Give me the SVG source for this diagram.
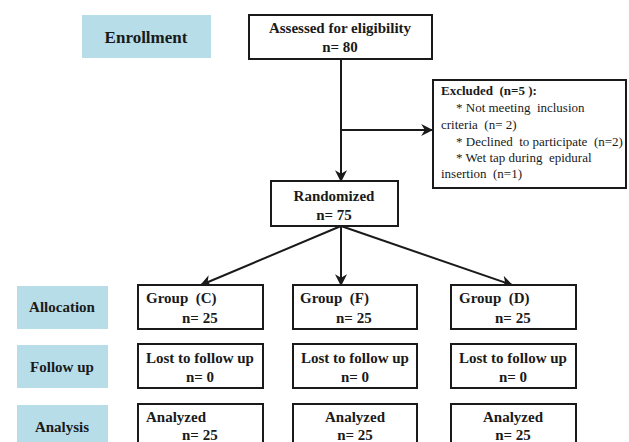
<svg xmlns="http://www.w3.org/2000/svg" width="629" height="442" viewBox="0 0 629 442">
<defs>
<style>
.lbl{fill:#b7dde8}
.box{fill:#fff;stroke:#1a1a1a;stroke-width:2}
.t{font-family:"Liberation Serif","Times New Roman",serif;font-weight:bold;font-size:15px;fill:#1a1a1a;white-space:pre}
.s{font-family:"Liberation Serif","Times New Roman",serif;font-size:13px;fill:#1a1a1a;white-space:pre}
.c{text-anchor:middle}
.ln{stroke:#1a1a1a;stroke-width:2;fill:none;marker-end:url(#ah)}
</style>
<marker id="ah" viewBox="0 0 10 10" refX="9" refY="5" markerWidth="6" markerHeight="6" orient="auto" markerUnits="strokeWidth">
<path d="M0,0 L10,5 L0,10 L3,5 Z" fill="#1a1a1a"/>
</marker>
</defs>
<rect width="629" height="442" fill="#fff"/>
<g id="connectors">
<line class="ln" x1="341" y1="59" x2="341" y2="181"/>
<line class="ln" x1="341" y1="130" x2="432" y2="130"/>
<line class="ln" x1="341" y1="226" x2="201" y2="285"/>
<line class="ln" x1="341" y1="226" x2="341" y2="285"/>
<line class="ln" x1="341" y1="226" x2="512" y2="285"/>
</g>
<g id="enrollment"><rect class="lbl" x="82" y="15" width="129" height="43"/><text class="t c" x="146" y="43" style="font-size:17px">Enrollment</text></g>
<g id="allocation"><rect class="lbl" x="17" y="286" width="91" height="43"/><text class="t c" x="62" y="312">Allocation</text></g>
<g id="followup"><rect class="lbl" x="17" y="345" width="91" height="43"/><text class="t c" x="62" y="372">Follow up</text></g>
<g id="analysis"><rect class="lbl" x="17" y="405" width="91" height="43"/><text class="t c" x="62" y="432">Analysis</text></g>
<g id="assessed"><rect class="box" x="249" y="15" width="183" height="44"/><text class="t c" x="340" y="33">Assessed for eligibility</text><text class="t c" x="340" y="52">n= 80</text></g>
<g id="excluded"><rect class="box" x="433" y="80" width="193" height="108"/>
<text class="s" x="441" y="95" font-weight="bold">Excluded  (n=5 ):</text>
<text class="s" x="456" y="112">* Not meeting  inclusion</text>
<text class="s" x="441" y="129">criteria  (n= 2)</text>
<text class="s" x="456" y="146">* Declined  to participate  (n=2)</text>
<text class="s" x="456" y="162">* Wet tap during  epidural</text>
<text class="s" x="441" y="178">insertion  (n=1)</text>
</g>
<g id="randomized"><rect class="box" x="271" y="181" width="127" height="45"/><text class="t c" x="334" y="201">Randomized</text><text class="t c" x="334" y="220">n= 75</text></g>
<g id="groupC"><rect class="box" x="138" y="285" width="125" height="44"/><text class="t" x="146" y="303">Group  (C)</text><text class="t" x="182" y="323">n= 25</text></g>
<g id="groupF"><rect class="box" x="293" y="285" width="124" height="44"/><text class="t" x="300" y="303">Group  (F)</text><text class="t" x="336" y="323">n= 25</text></g>
<g id="groupD"><rect class="box" x="451" y="285" width="125" height="44"/><text class="t" x="459" y="303">Group  (D)</text><text class="t" x="495" y="323">n= 25</text></g>
<g id="lostC"><rect class="box" x="138" y="344" width="125" height="44"/><text class="t c" x="200" y="363">Lost to follow up</text><text class="t c" x="200" y="382">n= 0</text></g>
<g id="lostF"><rect class="box" x="293" y="344" width="124" height="44"/><text class="t c" x="355" y="363">Lost to follow up</text><text class="t c" x="355" y="382">n= 0</text></g>
<g id="lostD"><rect class="box" x="451" y="344" width="125" height="44"/><text class="t c" x="513" y="363">Lost to follow up</text><text class="t c" x="513" y="382">n= 0</text></g>
<g id="analyzedC"><rect class="box" x="138" y="404" width="125" height="44"/><text class="t" x="146" y="422">Analyzed</text><text class="t" x="182" y="440">n= 25</text></g>
<g id="analyzedF"><rect class="box" x="293" y="404" width="124" height="44"/><text class="t c" x="355" y="422">Analyzed</text><text class="t c" x="355" y="440">n= 25</text></g>
<g id="analyzedD"><rect class="box" x="451" y="404" width="125" height="44"/><text class="t c" x="513" y="422">Analyzed</text><text class="t c" x="513" y="440">n= 25</text></g>
</svg>
